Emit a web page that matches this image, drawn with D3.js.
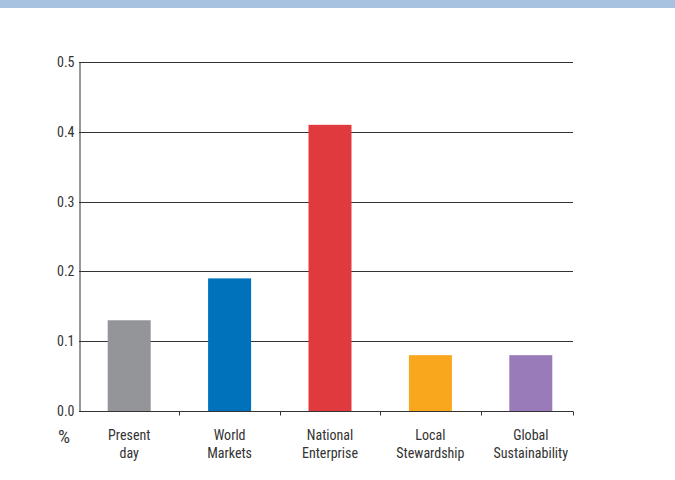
<!DOCTYPE html>
<html>
<head>
<meta charset="utf-8">
<script src="https://cdn.jsdelivr.net/npm/d3@7"></script>
<style>
  body { margin: 0; background: #fff; }
  svg text { font-family: "Liberation Sans Narrow", "Roboto Condensed", "Liberation Sans", sans-serif; fill: #333; }
</style>
</head>
<body>
<svg id="chart" width="675" height="480"></svg>
<script>
// chart data
const categories = ["Present day", "World Markets", "National Enterprise", "Local Stewardship", "Global Sustainability"];
const labelLines = [["Present", "day"], ["World", "Markets"], ["National", "Enterprise"], ["Local", "Stewardship"], ["Global", "Sustainability"]];
const values = [0.13, 0.19, 0.41, 0.08, 0.08];
const barColors = ["#939598", "#0072bc", "#e03a3e", "#f9a71c", "#9a7bb9"];
const yTicks = [0, 0.1, 0.2, 0.3, 0.4, 0.5];

const width = 675, height = 480;
const margin = { top: 62, right: 94, bottom: 69, left: 79 };

const svg = d3.select("#chart");

// header band from the page
svg.append("rect")
    .attr("x", 0).attr("y", 0)
    .attr("width", width).attr("height", 8)
    .attr("fill", "#a6c2e0");

const x = d3.scaleBand()
    .domain(categories)
    .range([margin.left, margin.left + 502])
    .padding(0);

const y = d3.scaleLinear()
    .domain([0, 0.5])
    .range([height - margin.bottom, margin.top]);

const axisEnd = width - margin.right - 8;

// gridlines
svg.append("g")
    .selectAll("line")
    .data(yTicks.filter(d => d > 0))
    .enter()
    .append("line")
    .attr("x1", margin.left)
    .attr("x2", axisEnd)
    .attr("y1", d => Math.round(y(d)) + 0.5)
    .attr("y2", d => Math.round(y(d)) + 0.5)
    .attr("stroke", "#333")
    .attr("stroke-width", 1);

// bars
const barW = 43;
svg.append("g")
    .selectAll("rect")
    .data(values)
    .enter()
    .append("rect")
    .attr("x", (d, i) => x(categories[i]) + (x.bandwidth() - barW) / 2)
    .attr("y", d => y(d))
    .attr("width", barW)
    .attr("height", d => y(0) - y(d))
    .attr("fill", (d, i) => barColors[i]);

// y axis
const yAxis = svg.append("g")
    .attr("transform", `translate(${margin.left + 0.5},0)`)
    .call(d3.axisLeft(y).tickValues(yTicks).tickFormat(d3.format(".1f")).tickSize(0).tickPadding(5));
yAxis.select(".domain").attr("stroke", "#333");
yAxis.selectAll("text")
    .attr("font-size", 14)
    .style("font-family", "\"Liberation Sans Narrow\", \"Roboto Condensed\", sans-serif")
    .attr("fill", "#333");

// x axis line and ticks
const base = Math.round(y(0)) + 0.5;
svg.append("line")
    .attr("x1", margin.left).attr("x2", axisEnd)
    .attr("y1", base).attr("y2", base)
    .attr("stroke", "#333");

const tickXs = categories.slice(1).map(c => x(c)).concat([axisEnd]);
svg.append("g")
    .selectAll("line")
    .data(tickXs)
    .enter()
    .append("line")
    .attr("x1", d => Math.round(d) + 0.5)
    .attr("x2", d => Math.round(d) + 0.5)
    .attr("y1", base)
    .attr("y2", base + 4)
    .attr("stroke", "#333");

// category labels
const lab = svg.append("g")
    .selectAll("text")
    .data(labelLines)
    .enter()
    .append("text")
    .attr("text-anchor", "middle")
    .attr("font-size", 14)
    .attr("transform", (d, i) => `translate(${x(categories[i]) + x.bandwidth() / 2}, ${base + 28})`);

lab.selectAll("tspan")
    .data(d => d)
    .enter()
    .append("tspan")
    .attr("x", 0)
    .attr("dy", (d, i) => i === 0 ? 0 : 18)
    .text(d => d);

// unit
svg.append("text")
    .attr("x", 64)
    .attr("y", base + 31)
    .attr("text-anchor", "middle")
    .attr("font-size", 19)
    .text("%");
</script>
</body>
</html>
